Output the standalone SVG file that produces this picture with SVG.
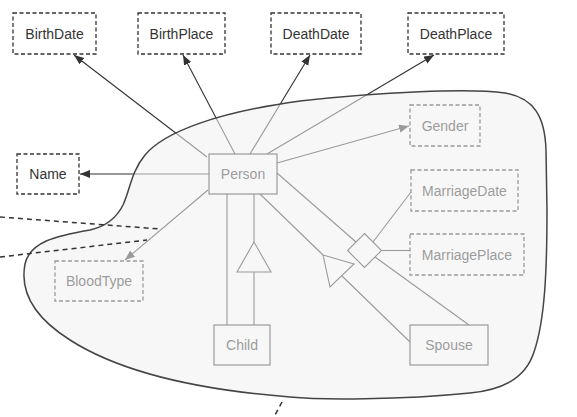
<svg xmlns="http://www.w3.org/2000/svg" width="577" height="417" viewBox="0 0 577 417">
<style>
  .box{fill:none;stroke:#333;stroke-width:1.2}
  .attr{fill:none;stroke:#333;stroke-width:1.3;stroke-dasharray:4 2.5}
  .lbl{font-family:"Liberation Sans",Arial,sans-serif;font-size:14px;fill:#333;text-anchor:middle;dominant-baseline:central}
  .ln{fill:none;stroke:#333;stroke-width:1.1}
  .cut{fill:none;stroke:#333;stroke-width:1.5;stroke-dasharray:5 4}
</style>
<defs>
  <marker id="arr" markerUnits="userSpaceOnUse" markerWidth="12" markerHeight="10" refX="10" refY="4" orient="auto">
    <path d="M0,0 L10,4 L0,8 Z" fill="#333"/>
  </marker>
</defs>
<rect width="577" height="417" fill="#fff"/>
<g id="connectors">
  <line class="ln" x1="207" y1="157" x2="74" y2="55" marker-end="url(#arr)"/>
  <line class="ln" x1="235" y1="154" x2="183" y2="55" marker-end="url(#arr)"/>
  <line class="ln" x1="250" y1="154" x2="310" y2="55" marker-end="url(#arr)"/>
  <line class="ln" x1="267" y1="154" x2="434" y2="55" marker-end="url(#arr)"/>
  <line class="ln" x1="277" y1="163" x2="409" y2="126" marker-end="url(#arr)"/>
  <line class="ln" x1="209" y1="174" x2="80" y2="174" marker-end="url(#arr)"/>
  <line class="ln" x1="208" y1="190" x2="125" y2="260" marker-end="url(#arr)"/>
  <line class="ln" x1="227" y1="194" x2="227" y2="325"/>
  <line class="ln" x1="254" y1="194" x2="254" y2="242"/>
  <line class="ln" x1="254" y1="272" x2="254" y2="325"/>
  <polygon class="ln" points="254,242 237,272 271,272"/>
  <line class="ln" x1="260" y1="194" x2="323" y2="255"/>
  <polygon class="ln" points="323,255 330,287 354,264"/>
  <line class="ln" x1="410" y1="342" x2="342" y2="276"/>
  <line class="ln" x1="277" y1="173" x2="356" y2="242"/>
  <line class="ln" x1="375" y1="257" x2="469" y2="325"/>
  <line class="ln" x1="373" y1="242" x2="411" y2="192"/>
  <line class="ln" x1="381.5" y1="250.5" x2="410" y2="250.5"/>
  <polygon class="ln" points="364.5,233.5 381.5,250.5 364.5,267.5 347.5,250.5"/>
</g>
<g id="BirthDate"><rect class="attr" x="13" y="13" width="83" height="41"/><text class="lbl" x="54.5" y="33.5">BirthDate</text></g>
<g id="BirthPlace"><rect class="attr" x="138" y="13" width="87" height="41"/><text class="lbl" x="181.5" y="33.5">BirthPlace</text></g>
<g id="DeathDate"><rect class="attr" x="271" y="13" width="90" height="41"/><text class="lbl" x="316" y="33.5">DeathDate</text></g>
<g id="DeathPlace"><rect class="attr" x="408" y="13" width="96" height="41"/><text class="lbl" x="456" y="33.5">DeathPlace</text></g>
<g id="Name"><rect class="attr" x="17" y="154" width="62" height="40"/><text class="lbl" x="48" y="174">Name</text></g>
<g id="Person"><rect class="box" x="209" y="154" width="68" height="40"/><text class="lbl" x="243" y="174">Person</text></g>
<g id="Gender"><rect class="attr" x="410" y="105" width="70" height="41"/><text class="lbl" x="445" y="125.5">Gender</text></g>
<g id="MarriageDate"><rect class="attr" x="411" y="170" width="107" height="41"/><text class="lbl" x="464.5" y="190.5">MarriageDate</text></g>
<g id="MarriagePlace"><rect class="attr" x="410" y="234" width="114" height="41"/><text class="lbl" x="467" y="254.5">MarriagePlace</text></g>
<g id="BloodType"><rect class="attr" x="55" y="261" width="88" height="40"/><text class="lbl" x="99" y="281">BloodType</text></g>
<g id="Child"><rect class="box" x="214" y="325" width="56" height="40"/><text class="lbl" x="242" y="345">Child</text></g>
<g id="Spouse"><rect class="box" x="410" y="325" width="78" height="40"/><text class="lbl" x="449" y="345">Spouse</text></g>
<g id="region">
  <path d="M123,205 C130,190 131,172 145,155 C165,131 220,112 300,101 C380,92 470,88 505,93 C535,98 545,118 546,150 L547,210 C547,270 545,320 534,352 C525,380 500,390 470,393 C400,400 320,400 290,397 C200,390 120,372 70,340 C32,316 20,290 25,264 C30,242 55,236 90,230 C108,226 117,217 123,205 Z" fill="#f0f0f0" fill-opacity="0.55" stroke="#444" stroke-width="1.5"/>
</g>
<g id="cuts">
  <line class="cut" x1="0" y1="217" x2="160" y2="229"/>
  <line class="cut" x1="0" y1="257" x2="147" y2="240"/>
  <line class="cut" x1="282" y1="402" x2="274" y2="417"/>
</g>
</svg>
